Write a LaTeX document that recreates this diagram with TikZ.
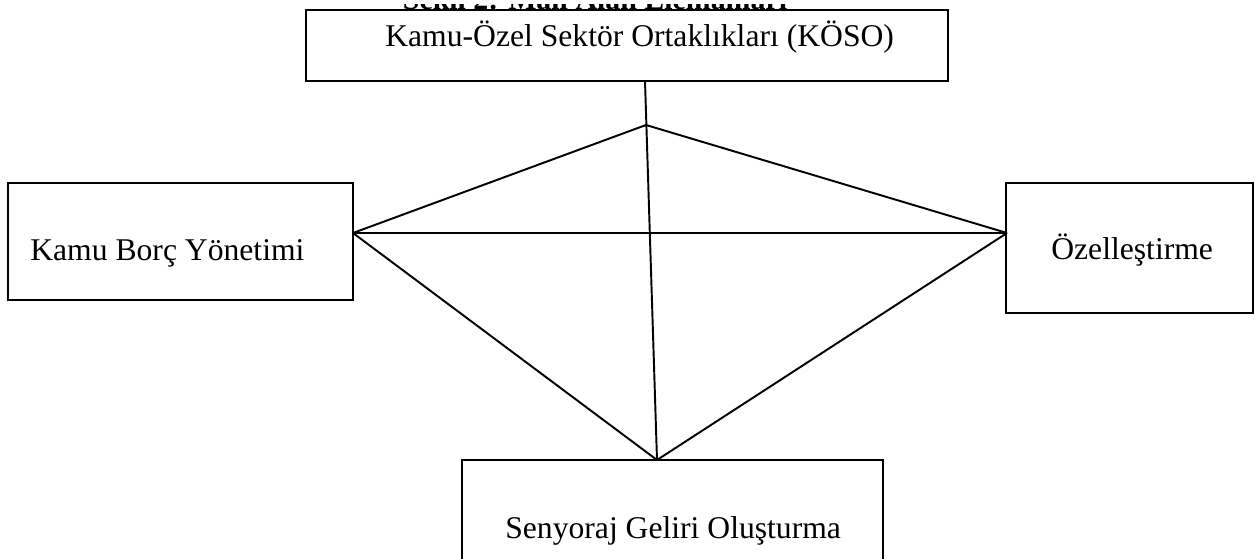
\documentclass[tikz,border=0pt]{standalone}
\usepackage{fontspec}
\setmainfont{Liberation Serif}
\usetikzlibrary{positioning}

\begin{document}
\begin{tikzpicture}[box/.style = {draw, line width=1.2pt, fill=white, inner sep=0pt},
	lbl/.style = {inner sep=0pt, font=\fontsize{18}{21}\selectfont}]
				\useasboundingbox (0,0) rectangle (25.16,-11.18);
				\begin{scope}
					\clip (0,-0.1) rectangle (25.16,-0.2);
					\node[anchor=base, inner sep=0pt, font=\fontsize{17}{20}\selectfont\bfseries] (title) at (11.9,-0.2) {Şekil 2: Mali Alan Elemanları};
				\end{scope}
				\begin{scope}[every node/.style={box}]
					\node[minimum width=12.84cm, minimum height=1.42cm] (K) at (12.54,-0.91) {};
					\node[minimum width=6.9cm, minimum height=2.34cm] (B) at (3.61,-4.83) {};
					\node[minimum width=4.94cm, minimum height=2.6cm] (O) at (22.59,-4.96) {};
					\node[minimum width=8.42cm, minimum height=2.4cm] (S) at (13.45,-10.4) {};
				\end{scope}
				\node[lbl, anchor=base west] (Kt) at (7.7,-0.94) {Kamu-Özel Sektör Ortaklıkları (KÖSO)};
				\node[lbl, anchor=base west] (Bt) at (0.6,-5.22) {Kamu Borç Yönetimi};
				\node[lbl, anchor=base west] (Ot) at (21.02,-5.2) {Özelleştirme};
				\node[lbl, anchor=base west] (St) at (10.1,-10.78) {Senyoraj Geliri Oluşturma};
				\coordinate (top) at (12.9,-1.62);
				\coordinate (apex) at (12.92,-2.5);
				\coordinate (left) at (7.06,-4.66);
				\coordinate (right) at (20.14,-4.66);
				\coordinate (bottom) at (13.14,-9.2);
				\draw [line width=1.1pt,black] (top) -- (bottom);
				\draw [line width=1.1pt,black] (left) -- (apex);
				\draw [line width=1.1pt,black] (apex) -- (right);
				\draw [line width=1.1pt,black] (left) -- (right);
				\draw [line width=1.1pt,black] (left) -- (bottom);
				\draw [line width=1.1pt,black] (right) -- (bottom);
			\end{tikzpicture}
\end{document}
